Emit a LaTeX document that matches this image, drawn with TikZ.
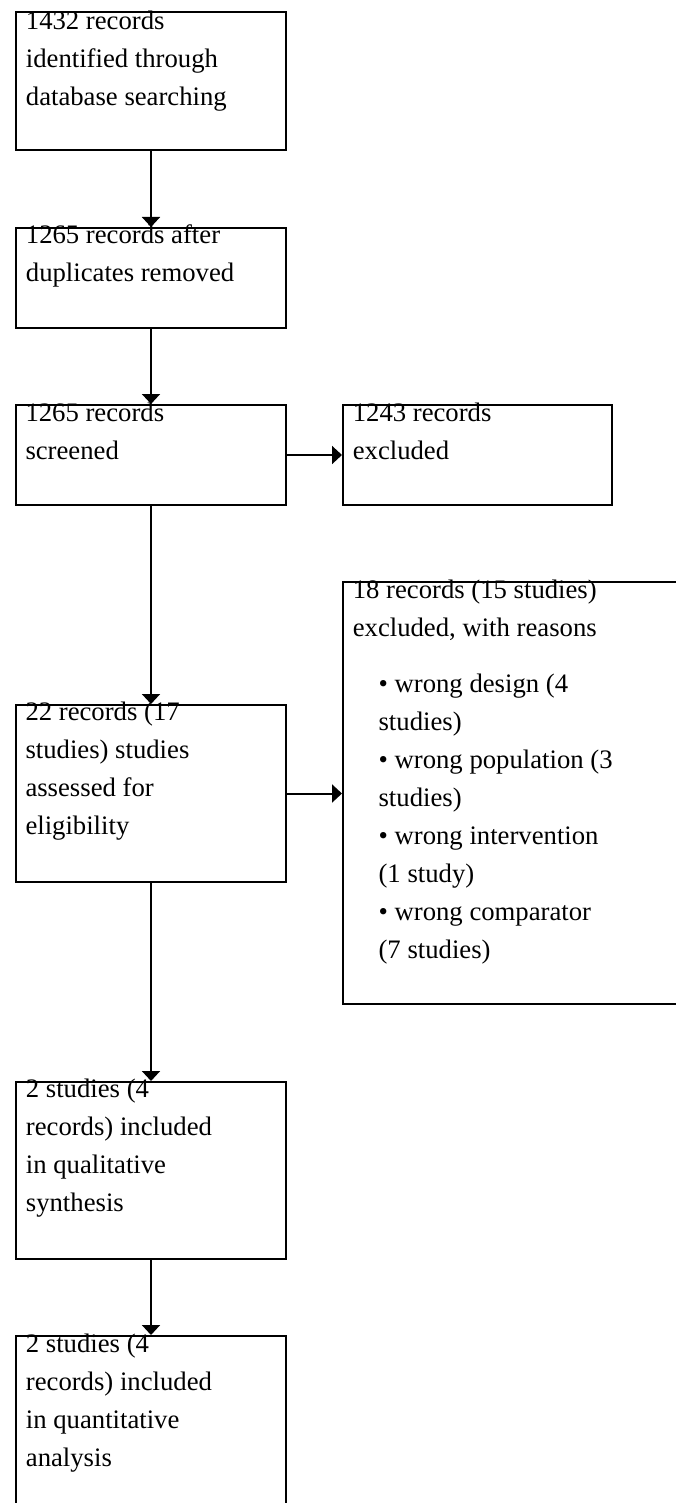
\documentclass[tikz,border=0pt]{standalone}
\usepackage{fontspec}
\setmainfont{Liberation Serif}
\usetikzlibrary{arrows.meta}
\newcommand\boxlines[1]{\vtop{\baselineskip=38pt\lineskiplimit=-20pt\halign{##\hfil\cr #1\crcr}}}
\tikzset{
  box/.style={draw=black, line width=2pt, fill=none, inner sep=0pt, anchor=north west},
  txt/.style={anchor=base west, inner sep=0pt, font=\fontsize{26.7}{38}\selectfont},
  flow/.style={line width=2pt, -{Triangle[width=18pt,length=10pt]}}
}
\begin{document}
\begin{tikzpicture}[x=1pt,y=-1pt]
\useasboundingbox (0,0) rectangle (676,1503);
\clip (0,0) rectangle (676,1503);
\fill[white] (0,0) rectangle (676,1503);
% boxes
\node[box, minimum width=270pt, minimum height=138pt] (b1) at (15,11) {};
\node[box, minimum width=270pt, minimum height=100pt] (b2) at (15,227) {};
\node[box, minimum width=270pt, minimum height=100pt] (b3) at (15,404) {};
\node[box, minimum width=269pt, minimum height=100pt] (b4) at (342,404) {};
\node[box, minimum width=270pt, minimum height=177pt] (b5) at (15,704) {};
\node[box, minimum width=348pt, minimum height=422pt] (b6) at (342,581) {};
\node[box, minimum width=270pt, minimum height=177pt] (b7) at (15,1081) {};
\node[box, minimum width=270pt, minimum height=185pt] (b8) at (15,1335) {};
% texts
\node[txt] (t1) at (25.7,29.3) {\boxlines{1432 records\cr identified through\cr database searching}};
\node[txt] (t2) at (25.7,243.5) {\boxlines{1265 records after\cr duplicates removed}};
\node[txt] (t3) at (25.3,421) {\boxlines{1265 records\cr screened}};
\node[txt] (t4) at (352.6,421) {\boxlines{1243 records\cr excluded}};
\node[txt] (t5) at (25.3,720.5) {\boxlines{22 records (17\cr studies) studies\cr assessed for\cr eligibility}};
\node[txt] (t6a) at (352.6,598) {\boxlines{18 records (15 studies)\cr excluded, with reasons}};
\node[txt] (t6b) at (378.4,692) {\boxlines{• wrong design (4\cr studies)\cr • wrong population (3\cr studies)\cr • wrong intervention\cr (1 study)\cr • wrong comparator\cr (7 studies)}};
\node[txt] (t7) at (25.7,1097.5) {\boxlines{2 studies (4\cr records) included\cr in qualitative\cr synthesis}};
\node[txt] (t8) at (25.7,1352) {\boxlines{2 studies (4\cr records) included\cr in quantitative\cr analysis}};
% connectors
\draw[flow] (b1.south) -- (b2.north);
\draw[flow] (b2.south) -- (b3.north);
\draw[flow] (b3.south) -- (b5.north);
\draw[flow] (b5.south) -- (b7.north);
\draw[flow] (b7.south) -- (b8.north);
\draw[flow] (b3.east) -- (b4.west);
\draw[flow] (b5.east) -- (b5.east -| b6.west);
\end{tikzpicture}
\end{document}
